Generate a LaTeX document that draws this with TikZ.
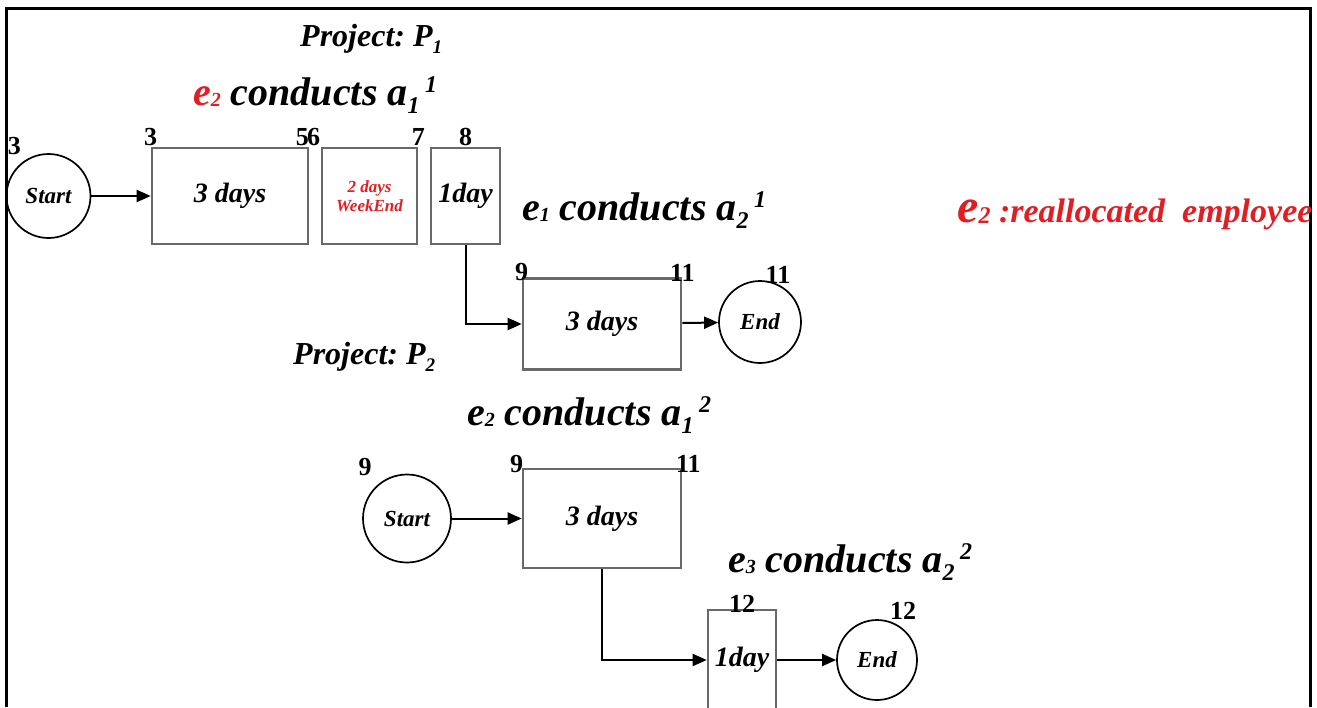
\documentclass[tikz,border=0pt]{standalone}
\usepackage{fontspec}
\usepackage{graphicx}
\setmainfont{Liberation Serif}
\frenchspacing
\usetikzlibrary{arrows.meta}
\definecolor{boxedge}{RGB}{105,105,105}
\definecolor{realloc}{RGB}{225,30,35}

\newcommand{\lowidx}[1]{\raisebox{-0.22em}{\scalebox{0.6}{#1}}}
\newcommand{\emp}[1]{e\raisebox{-0.04em}{\scalebox{0.5}{#1}}}
\newcommand{\act}[2]{a\lowidx{#1}\hspace{0.14em}\raisebox{0.32em}{\scalebox{0.6}{#2}}}

\tikzset{
  task/.style={draw=boxedge,line width=2.6pt,inner sep=0pt,
    font=\fontsize{28}{30}\selectfont\bfseries\itshape},
  event/.style={draw,circle,line width=1.7pt,minimum size=84pt,inner sep=0pt,
    font=\fontsize{23}{26}\selectfont\bfseries\itshape},
  time/.style={anchor=south,inner sep=1pt,font=\fontsize{26}{28}\selectfont\bfseries},
  caption/.style={anchor=base west,inner sep=0pt,
    font=\fontsize{40}{44}\selectfont\bfseries\itshape},
  project/.style={anchor=base west,inner sep=0pt,
    font=\fontsize{32}{34}\selectfont\bfseries\itshape},
  flow/.style={line width=2pt,-{Triangle[length=14pt,width=12pt]}},
}

\begin{document}
\begin{tikzpicture}[x=1pt,y=-1pt]
  \useasboundingbox (0,0) rectangle (1317,707);
  % frame, open at the bottom
  \draw[line width=3pt] (6,707) -- (6,8) -- (1310,8) -- (1310,707);

  % --- project P1 ---
  \node[project] (projA) at (300,46) {Project: P\lowidx{1}};
  \node[caption] (capA1) at (193,105)
    {\textcolor{realloc}{\emp{2}} conducts \act{1}{1}};
  \node[caption] (capA2) at (522,220) {\emp{1} conducts \act{2}{1}};

  \node[event] (startA) at (48.5,196) {Start};
  \node[task,minimum width=156pt,minimum height=96pt] (a11) at (230,196) {3 days};
  \node[task,minimum width=95pt,minimum height=96pt,align=center,text=realloc,
    font=\fontsize{17}{19}\selectfont\bfseries\itshape] (wkend) at (369.5,196)
    {2 days\\WeekEnd};
  \node[task,minimum width=69pt,minimum height=96pt] (a11b) at (465.5,196) {1day};
  \node[task,minimum width=158pt,minimum height=91pt] (a21) at (602,324) {3 days};
  \node[event,minimum size=82pt] (endA) at (760,322) {End};

  \node[time] (tA0) at ([xshift=-34pt,yshift=-3pt]startA.north) {3};
  \node[time] (tA1) at (a11.north west) {3};
  \node[time] (tA2) at ([xshift=-7pt]a11.north east) {5};
  \node[time] (tA3) at ([xshift=-7pt]wkend.north west) {6};
  \node[time] (tA4) at (wkend.north east) {7};
  \node[time] (tA5) at (a11b.north) {8};
  \node[time] (tA6) at ([yshift=-5pt]a21.north west) {9};
  \node[time] (tA7) at ([yshift=-5pt]a21.north east) {11};
  \node[time] (tA8) at ([xshift=18pt,yshift=-5pt]endA.north) {11};

  \draw[flow] (startA) -- (a11);
  \draw[flow] (a11b.south) |- (a21.west);
  \draw[flow] (a21) -- (endA);

  % reallocation note
  \node[anchor=base west,inner sep=0pt,text=realloc,
    font=\fontsize{34}{36}\selectfont\bfseries\itshape] (note) at (957,222)
    {{\fontsize{48}{50}\selectfont\emp{2}} :reallocated\ \ employee};

  % --- project P2 ---
  \node[project] (projB) at (293,364) {Project: P\lowidx{2}};
  \node[caption] (capB1) at (467,425) {\emp{2} conducts \act{1}{2}};
  \node[caption] (capB2) at (728,572) {\emp{3} conducts \act{2}{2}};

  \node[event,minimum size=88pt] (startB) at (407,518.5) {Start};
  \node[task,minimum width=158pt,minimum height=99pt] (a12) at (602,518.5) {3 days};
  \node[task,minimum width=68pt,minimum height=100pt] (a22) at (742,660) {1day};
  \node[event,minimum size=80pt] (endB) at (877,660) {End};

  \node[time] (tB0) at ([xshift=-42pt,yshift=-3pt]startB.north) {9};
  \node[time] (tB1) at ([xshift=-5pt,yshift=-6pt]a12.north west) {9};
  \node[time] (tB2) at ([xshift=6pt,yshift=-6pt]a12.north east) {11};
  \node[time] (tB3) at ([yshift=-5pt]a22.north) {12};
  \node[time] (tB4) at ([xshift=26pt,yshift=-2pt]endB.north) {12};

  \draw[flow] (startB) -- (a12);
  \draw[flow] (a12.south) |- (a22.west);
  \draw[flow] (a22) -- (endB);
\end{tikzpicture}
\end{document}
